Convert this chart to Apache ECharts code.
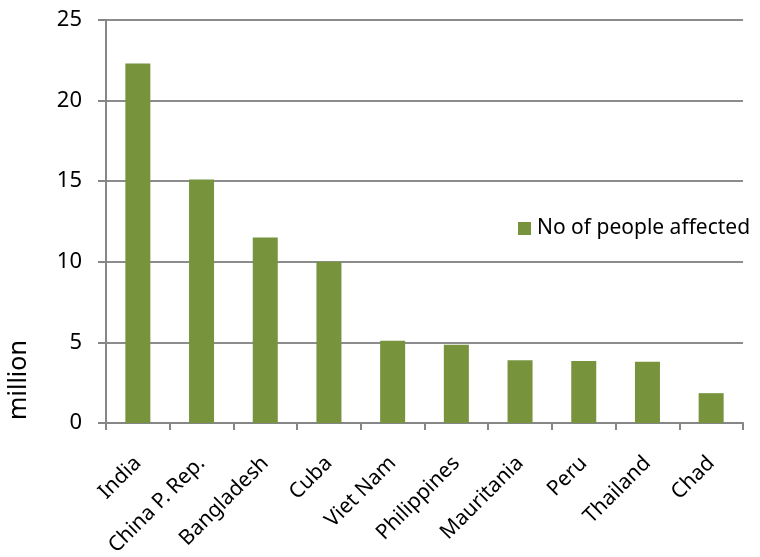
<!DOCTYPE html>
<html>
<head>
<meta charset="utf-8">
<script src="https://cdn.jsdelivr.net/npm/echarts@6/dist/echarts.min.js"></script>
<style>
html,body{margin:0;padding:0;background:#fff;}
#chart{width:760px;height:557px;}
</style>
</head>
<body>
<div id="chart"></div>
<script>
const categories = ["India", "China P. Rep.", "Bangladesh", "Cuba", "Viet Nam", "Philippines", "Mauritania", "Peru", "Thailand", "Chad"];
const affected = [22.3, 15.1, 11.5, 10.0, 5.1, 4.85, 3.9, 3.85, 3.8, 1.85];
const seriesName = "No of people affected";
const yAxisTitle = "million";

const font = "Noto Sans";
const chart = echarts.init(document.getElementById('chart'));
chart.setOption({
  animation: false,
  backgroundColor: '#ffffff',
  textStyle: { fontFamily: font },
  grid: { left: 106, right: 17, top: 20, bottom: 134, containLabel: false, outerBoundsMode: 'none' },
  legend: {
    data: [seriesName],
    left: 513, top: 213,
    itemWidth: 13, itemHeight: 13, itemGap: 6,
    icon: 'rect',
    textStyle: { fontFamily: font, fontSize: 21, color: '#000', padding: [0, 0, 0, 1] }
  },
  xAxis: {
    type: 'category',
    data: categories,
    axisLine: { lineStyle: { color: '#868686', width: 2 } },
    axisTick: { show: true, length: 7, lineStyle: { color: '#868686', width: 2 } },
    axisLabel: { rotate: 45, fontFamily: font, fontSize: 21, color: '#000', margin: 37, interval: 0 }
  },
  yAxis: {
    type: 'value',
    min: 0, max: 25, interval: 5,
    name: yAxisTitle,
    nameLocation: 'middle',
    nameRotate: 90,
    nameGap: 75,
    nameTextStyle: { fontFamily: font, fontSize: 25, color: '#000', padding: [0, 317, 0, 0] },
    axisLine: { show: true, lineStyle: { color: '#868686', width: 2 } },
    axisTick: { show: true, length: 8, lineStyle: { color: '#868686', width: 2 } },
    axisLabel: { fontFamily: font, fontSize: 22, color: '#000', margin: 24 },
    splitLine: { show: true, lineStyle: { color: '#8c8c8c', width: 2 } }
  },
  series: [{
    name: seriesName,
    type: 'bar',
    data: affected,
    barWidth: 25,
    itemStyle: { color: '#77933C' }
  }]
});
</script>
</body>
</html>
